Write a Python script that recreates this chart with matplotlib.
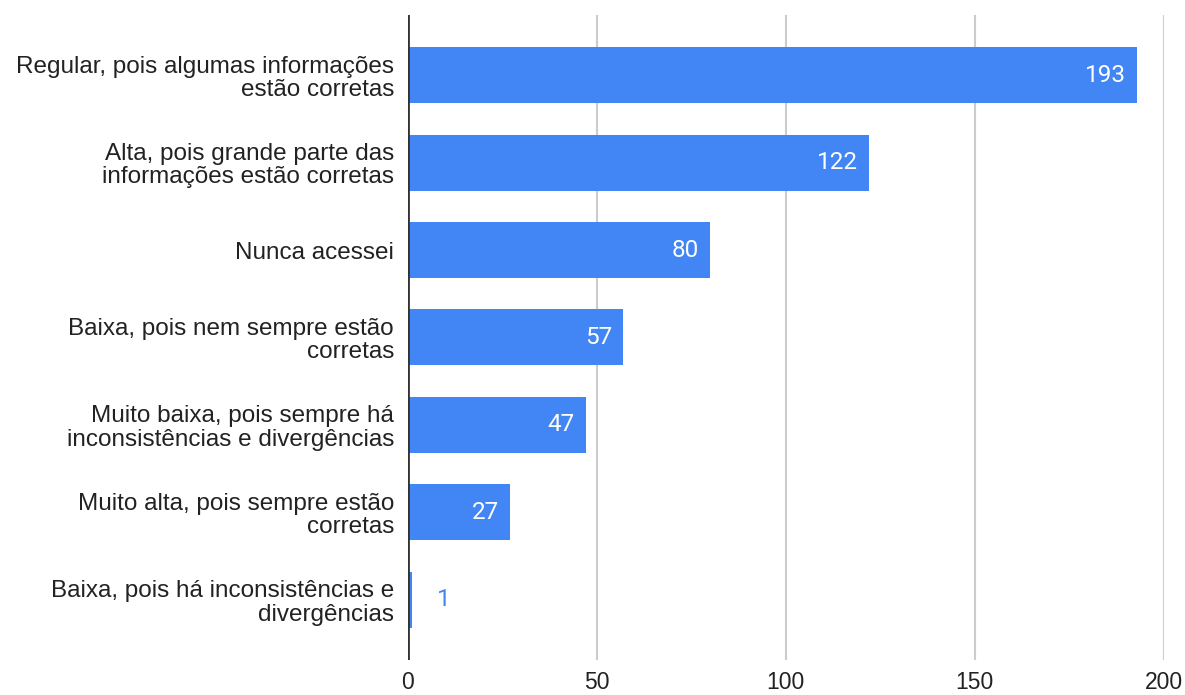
import matplotlib.pyplot as plt

# Data
categories = [
    "Regular, pois algumas informações\nestão corretas",
    "Alta, pois grande parte das\ninformações estão corretas",
    "Nunca acessei",
    "Baixa, pois nem sempre estão\ncorretas",
    "Muito baixa, pois sempre há\ninconsistências e divergências",
    "Muito alta, pois sempre estão\ncorretas",
    "Baixa, pois há inconsistências e\ndivergências",
]
values = [193, 122, 80, 57, 47, 27, 1]
x_ticks = [0, 50, 100, 150, 200]

bar_blue = "#4285F4"
grid_gray = "#cccccc"
txt_blk = "#222222"

plt.rcParams["font.family"] = ["Liberation Sans", "DejaVu Sans"]

fig = plt.figure(figsize=(11.85, 6.95), dpi=100)
ax = fig.add_axes([0.3443, 0.0504, 0.6376, 0.928])

pos = list(range(len(values)))
ax.barh(pos, values, height=0.64, color=bar_blue, zorder=3)

# Value labels: inside for long bars, outside for tiny ones
for p, v in zip(pos, values):
    if v > 10:
        ax.annotate(str(v), xy=(v, p), xytext=(-8, 0), textcoords="offset points",
                    ha="right", va="center", color="white", fontsize=17.5,
                    family="Roboto", zorder=4)
    else:
        ax.annotate(str(v), xy=(v, p), xytext=(18, 0), textcoords="offset points",
                    ha="left", va="center", color=bar_blue, fontsize=17.5,
                    family="Roboto", zorder=4)

ax.set_xlim(0, 200)
ax.set_ylim(len(values) - 1 + 0.686, -0.686)
ax.set_xticks(x_ticks)
ax.set_yticks(pos)
ax.set_yticklabels(categories, fontsize=17.5, color=txt_blk, linespacing=1.08)
ax.tick_params(axis="x", length=0, pad=8, labelsize=16.5, labelcolor=txt_blk)
ax.tick_params(axis="y", length=0, pad=10)

# Vertical gridlines, no frame except zero line
ax.grid(axis="x", color=grid_gray, linewidth=1.5, zorder=0)
for spine in ax.spines.values():
    spine.set_visible(False)
ax.axvline(0, color="#333333", linewidth=2, zorder=5)

fig.savefig("out.png", dpi=100)
